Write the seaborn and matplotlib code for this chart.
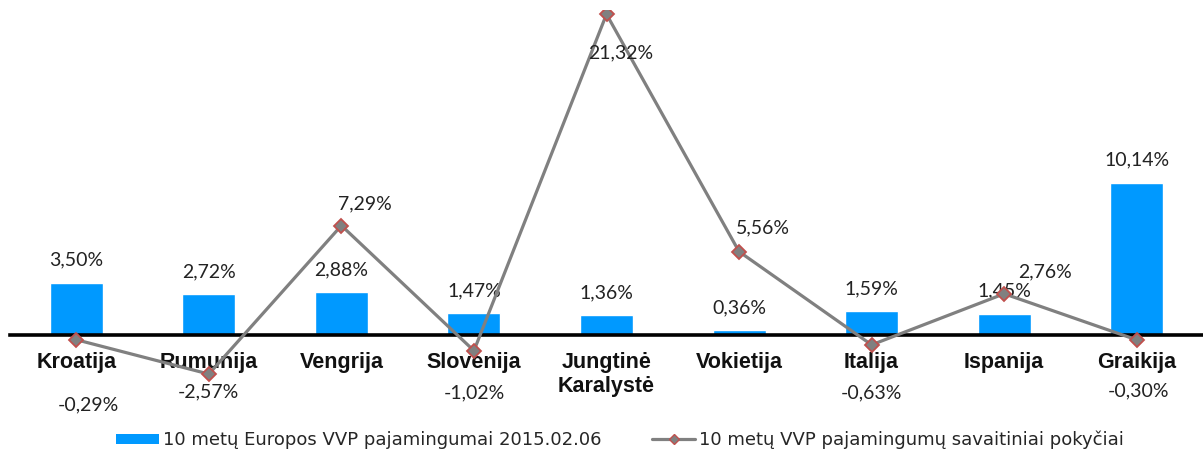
import matplotlib
matplotlib.use("Agg")
import matplotlib.pyplot as plt
import seaborn as sns
import pandas as pd
from matplotlib.patches import Patch
from matplotlib.lines import Line2D

# duomenys
salys = ["Kroatija", "Rumunija", "Vengrija", "Slovenija", "Jungtinė\nKaralystė",
         "Vokietija", "Italija", "Ispanija", "Graikija"]
pajamingumai = [3.50, 2.72, 2.88, 1.47, 1.36, 0.36, 1.59, 1.45, 10.14]
pokyciai = [-0.29, -2.57, 7.29, -1.02, 21.32, 5.56, -0.63, 2.76, -0.30]
# etikeciu poslinkiai (pikseliais) linijos reiksmems
poslinkiai = [(12, -65), (0, -18), (23, 22), (0, -42), (14, -39),
              (24, 24), (0, -48), (41, 22), (2, -51)]

df = pd.DataFrame({"salis": salys, "pajamingumai": pajamingumai, "pokyciai": pokyciai})

sns.set_style("white")
plt.rcParams["font.family"] = ["Lato", "DejaVu Sans"]

fig = plt.figure(figsize=(12.03, 4.55), dpi=100)
ax = fig.add_axes([10 / 1203, 1 - 420 / 455, 1193 / 1203, 410 / 455])

sns.barplot(data=df, x="salis", y="pajamingumai", color="#0099FF", saturation=1,
            width=0.4, ax=ax, zorder=2)
sns.pointplot(data=df, x="salis", y="pokyciai", color="#808080", markers="D",
              linewidth=2.3, markersize=7, markeredgecolor="#C0504D",
              markerfacecolor="#808080", markeredgewidth=1.3, ax=ax, zorder=5)

ax.bar_label(ax.containers[0], labels=[f"{v:.2f}%".replace(".", ",") for v in pajamingumai],
             padding=10, fontsize=14, color="#222222")

for i, (v, off) in enumerate(zip(pokyciai, poslinkiai)):
    ax.annotate(f"{v:.2f}%".replace(".", ","), (i, v), xytext=off,
                textcoords="offset pixels", ha="center", va="center",
                fontsize=14, color="#222222", zorder=6)

ax.set_xlim(-0.5, 8.5)
ax.set_ylim(-5.62, 21.6)
ax.set_xlabel("")
ax.set_ylabel("")
ax.set_yticks([])
for s in ["top", "right", "left"]:
    ax.spines[s].set_visible(False)
ax.spines["bottom"].set_position(("data", 0))
ax.spines["bottom"].set_linewidth(2.6)
ax.spines["bottom"].set_color("black")
ax.spines["bottom"].set_zorder(3)
ax.tick_params(axis="x", length=0, pad=12)
for lbl in ax.get_xticklabels():
    lbl.set_fontfamily(["Liberation Sans", "DejaVu Sans"])
    lbl.set_fontweight("bold")
    lbl.set_fontsize(15.5)
    lbl.set_color("#111111")
    lbl.set_linespacing(1.2)

handles = [
    Patch(facecolor="#0099FF", edgecolor="none"),
    Line2D([0], [0], color="#808080", lw=2.3, marker="D", markersize=5,
           markerfacecolor="#808080", markeredgecolor="#C0504D"),
]
fig.legend(handles, ["10 metų Europos VVP pajamingumai 2015.02.06",
                     "10 metų VVP pajamingumų savaitiniai pokyčiai"],
           loc="center", bbox_to_anchor=(620 / 1203, 1 - 440 / 455), ncol=2,
           frameon=False, handlelength=2.4, handleheight=0.5, handletextpad=0.2,
           columnspacing=2.8, prop={"family": ["Liberation Sans Narrow", "DejaVu Sans"], "size": 13})

fig.savefig("out.png", dpi=100)
